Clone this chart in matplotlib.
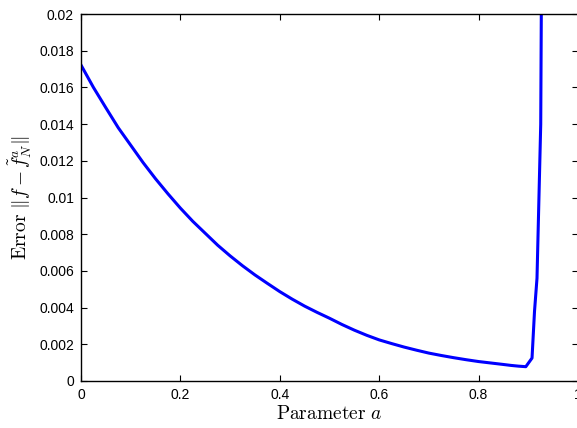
import matplotlib.pyplot as plt

plt.rcParams['font.family'] = ['Liberation Sans', 'DejaVu Sans']
plt.rcParams['mathtext.fontset'] = 'cm'

# parameter a and error values
a = [0.0, 0.025, 0.05, 0.075, 0.1, 0.125, 0.15, 0.175, 0.2, 0.225, 0.25, 0.275,
     0.3, 0.325, 0.35, 0.375, 0.4, 0.425, 0.45, 0.475, 0.5, 0.525, 0.55, 0.575,
     0.6, 0.625, 0.65, 0.675, 0.7, 0.725, 0.75, 0.775, 0.8, 0.825, 0.85, 0.865,
     0.88, 0.895, 0.9075, 0.9125, 0.9175, 0.925, 0.93]
err = [0.01722, 0.0160, 0.01489, 0.0138, 0.01285, 0.0119, 0.01102, 0.0102,
       0.00942, 0.0087, 0.00805, 0.0074, 0.00682, 0.00628, 0.00578, 0.00532,
       0.00487, 0.00446, 0.00408, 0.00374, 0.00342, 0.00308, 0.00277, 0.00249,
       0.00224, 0.00204, 0.00185, 0.00168, 0.00152, 0.00139, 0.00127, 0.00116,
       0.00106, 0.00098, 0.00090, 0.00085, 0.00081, 0.00078, 0.00125, 0.0038,
       0.0056, 0.014, 0.04]

xticks = [0, 0.2, 0.4, 0.6, 0.8, 1]
xlabels = ['0', '0.2', '0.4', '0.6', '0.8', '1']
yticks = [0, 0.002, 0.004, 0.006, 0.008, 0.01, 0.012, 0.014, 0.016, 0.018, 0.02]
ylabels = ['0', '0.002', '0.004', '0.006', '0.008', '0.01', '0.012', '0.014',
           '0.016', '0.018', '0.02']

fig = plt.figure(figsize=(5.77, 4.28), dpi=100)
ax = fig.add_axes([81 / 577, 47 / 428, 497 / 577, 367 / 428])
ax.plot(a, err, color='#0000ff', linewidth=2.2)

ax.set_xlim(0, 1)
ax.set_ylim(0, 0.02)
ax.set_xticks(xticks)
ax.set_xticklabels(xlabels)
ax.set_yticks(yticks)
ax.set_yticklabels(ylabels)
ax.tick_params(direction='in', top=True, right=True, length=4, width=0.8,
               labelsize=10, pad=5)
for s in ax.spines.values():
    s.set_linewidth(1.0)

ax.set_xlabel(r'$\mathrm{Parameter}\ a$', fontsize=14, labelpad=2)
ax.set_ylabel(r'$\mathrm{Error}\ \|f-\tilde{f}_N^{a}\|$', fontsize=14, labelpad=4)

fig.savefig('out.png', dpi=100)
